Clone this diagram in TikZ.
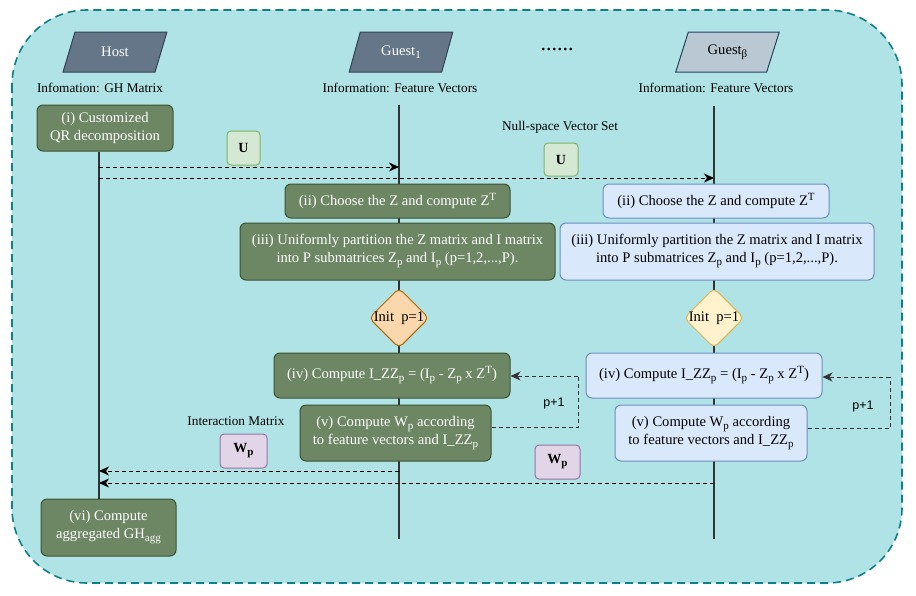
\documentclass[tikz,border=0pt]{standalone}
\usepackage{fontspec}
\setmainfont{Liberation Serif}
\newfontfamily\sansf{Liberation Sans}
\usetikzlibrary{shapes.geometric,arrows.meta}
\definecolor{bgfill}{HTML}{B0E3E6}
\definecolor{bgdraw}{HTML}{0E8088}
\definecolor{hostfill}{HTML}{647687}
\definecolor{hostdraw}{HTML}{314354}
\definecolor{gbfill}{HTML}{BAC8D3}
\definecolor{gbdraw}{HTML}{23445D}
\definecolor{gfill}{HTML}{6D8764}
\definecolor{gdraw}{HTML}{3A5431}
\definecolor{bfill}{HTML}{DAE8FC}
\definecolor{bdraw}{HTML}{6C8EBF}
\definecolor{ufill}{HTML}{D5E8D4}
\definecolor{udraw}{HTML}{82B366}
\definecolor{wfill}{HTML}{E1D5E7}
\definecolor{wdraw}{HTML}{9673A6}
\definecolor{ofill}{HTML}{FAD7AC}
\definecolor{odraw}{HTML}{B46504}
\definecolor{yfill}{HTML}{FFF2CC}
\definecolor{ydraw}{HTML}{D6B656}
\definecolor{lifec}{HTML}{333333}
\newcommand{\lsub}[1]{\raisebox{-0.45ex}{\fontsize{11}{11}\selectfont #1}}
\newcommand{\hsup}[1]{\raisebox{0.75ex}{\fontsize{11}{11}\selectfont #1}}
\tikzset{
  boxtext/.style={font=\fontsize{14.6}{18}\selectfont, align=center, inner sep=0pt},
  gbox/.style={boxtext, rectangle, rounded corners=6pt, fill=gfill, draw=gdraw, line width=1pt, text=white},
  bbox/.style={boxtext, rectangle, rounded corners=6pt, fill=bfill, draw=bdraw, line width=1pt, text=black},
  lbl/.style={font=\fontsize{13.3}{16}\selectfont, inner sep=0pt},
  token/.style={rectangle, rounded corners=4pt, line width=1pt, font=\bfseries\fontsize{14}{16}\selectfont, inner sep=0pt},
  ubox/.style={token, fill=ufill, draw=udraw},
  wbox/.style={token, fill=wfill, draw=wdraw},
  party/.style={trapezium, trapezium left angle=67, trapezium right angle=113, trapezium stretches=true,
    minimum width=104pt, minimum height=40pt, line width=1pt, font=\fontsize{14.6}{18}\selectfont, inner sep=0pt},
  decide/.style={diamond, minimum width=60pt, minimum height=60pt, inner sep=0pt, rounded corners=5pt, line width=1pt,
    label={[font=\fontsize{14.6}{18}\selectfont, inner sep=0pt]center:Init\ \ p=1}},
  life/.style={draw=lifec, line width=1.1pt},
  msg/.style={draw=black, dash pattern=on 4pt off 3pt, line width=1pt, -{Stealth[length=10pt,width=9pt,inset=3pt]}},
  loopln/.style={draw=black!80, dash pattern=on 4pt off 3pt, line width=1pt}
}
\begin{document}
\begin{tikzpicture}[x=1pt,y=-1pt]
\useasboundingbox (0,0) rectangle (916,595);
\draw[fill=bgfill, draw=bgdraw, line width=1.6pt, dash pattern=on 8pt off 5pt, rounded corners=75pt] (12,10) rectangle (902,583);

% lifelines
\coordinate (hx) at (99,0);
\coordinate (g1top) at (399,105);
\coordinate (g1bot) at (399,539);
\coordinate (gbtop) at (714,106);
\coordinate (gbbot) at (714,539);
\draw[life] (g1top) -- (g1bot);
\draw[life] (gbtop) -- (gbbot);

% parties
\node[party, fill=hostfill, draw=hostdraw, text=white] (host) at (115,52) {Host};
\node[party, fill=hostfill, draw=hostdraw, text=white] (guest1) at (401,52) {Guest\lsub{1}};
\node[party, fill=gbfill, draw=gbdraw, text=black] (guestb) at (727.5,52) {Guest\lsub{β}};
\node[font=\fontsize{22}{22}\selectfont, inner sep=0pt] (dots) at (557,50) {......};

\node[lbl] (hinfo) at (100,88) {Infomation: GH Matrix};
\node[lbl] (g1info) at (400,88) {Information: Feature Vectors};
\node[lbl] (gbinfo) at (716,88) {Information: Feature Vectors};

% host boxes
\node[gbox, minimum width=136pt, minimum height=46pt] (qr) at (105,128) {(i) Customized\\QR decomposition};
\node[gbox, minimum width=135pt, minimum height=57pt] (agg) at (108.5,527.5) {(vi) Compute\\aggregated GH\lsub{agg}};
\draw[life] (qr.south -| hx) -- (agg.north -| hx);

% U tokens
\node[ubox, minimum width=33pt, minimum height=34pt] (u1) at (243.5,148) {U};
\node[lbl] (nulllbl) at (560,127) {Null-space Vector Set};
\node[ubox, minimum width=34pt, minimum height=33pt] (u2) at (561,159.5) {U};

% messages from host
\coordinate (m1s) at (99,167);
\coordinate (m1e) at (399,167);
\coordinate (m2s) at (99,178);
\coordinate (m2e) at (714,178);
\draw[msg] (m1s) -- (m1e);
\draw[msg] (m2s) -- (m2e);

% Guest1 column
\node[gbox, minimum width=225pt, minimum height=34pt] (ii1) at (397.5,201) {(ii) Choose the Z and compute Z\hsup{T}};
\node[gbox, minimum width=315pt, minimum height=57pt] (iii1) at (397.5,251.5)
  {(iii) Uniformly partition the Z matrix and I matrix\\into P submatrices Z\lsub{p} and I\lsub{p} (p=1,2,...,P).};
\node[decide, fill=ofill, draw=odraw] (init1) at (399,318) {};
\node[gbox, minimum width=236pt, minimum height=45pt] (iv1) at (392,375.5)
  {(iv) Compute I\_ZZ\lsub{p} = (I\lsub{p} - Z\lsub{p} x Z\hsup{T})};
\node[gbox, minimum width=191pt, minimum height=56pt] (v1) at (395.5,433)
  {(v) Compute W\lsub{p} according\\to feature vectors and I\_ZZ\lsub{p}};
\coordinate (l1a) at (578,427);
\coordinate (l1b) at (578,376);
\draw[loopln] (v1.east |- l1a) -- (l1a) -- (l1b);
\draw[msg, draw=black!80] (l1b) -- (iv1.east |- l1b);
\node[font=\sansf\fontsize{12.5}{14}\selectfont, inner sep=0pt] (p1a) at (554,403) {p+1};

% Guest beta column
\node[bbox, minimum width=226pt, minimum height=34pt] (ii2) at (716,201) {(ii) Choose the Z and compute Z\hsup{T}};
\node[bbox, minimum width=314pt, minimum height=57pt] (iii2) at (717,251.5)
  {(iii) Uniformly partition the Z matrix and I matrix\\into P submatrices Z\lsub{p} and I\lsub{p} (p=1,2,...,P).};
\node[decide, fill=yfill, draw=ydraw] (init2) at (714,318) {};
\node[bbox, minimum width=236pt, minimum height=45pt] (iv2) at (704,375.5)
  {(iv) Compute I\_ZZ\lsub{p} = (I\lsub{p} - Z\lsub{p} x Z\hsup{T})};
\node[bbox, minimum width=192pt, minimum height=56pt] (v2) at (711,433)
  {(v) Compute W\lsub{p} according\\to feature vectors and I\_ZZ\lsub{p}};
\coordinate (l2a) at (890,428);
\coordinate (l2b) at (890,377);
\draw[loopln] (v2.east |- l2a) -- (l2a) -- (l2b);
\draw[msg, draw=black!80] (l2b) -- (iv2.east |- l2b);
\node[font=\sansf\fontsize{12.5}{14}\selectfont, inner sep=0pt] (p1b) at (863,406) {p+1};

% W tokens
\node[lbl] (intlbl) at (236,421) {Interaction Matrix};
\node[wbox, minimum width=47pt, minimum height=34pt] (w1) at (243.5,451) {W\lsub{p}};
\node[wbox, minimum width=45pt, minimum height=34pt] (w2) at (557.5,462) {W\lsub{p}};

% messages back to host
\coordinate (r1s) at (399,471);
\coordinate (r1e) at (99,471);
\coordinate (r2s) at (714,483);
\coordinate (r2e) at (99,483);
\draw[msg] (r1s) -- (r1e);
\draw[msg] (r2s) -- (r2e);
\end{tikzpicture}
\end{document}
